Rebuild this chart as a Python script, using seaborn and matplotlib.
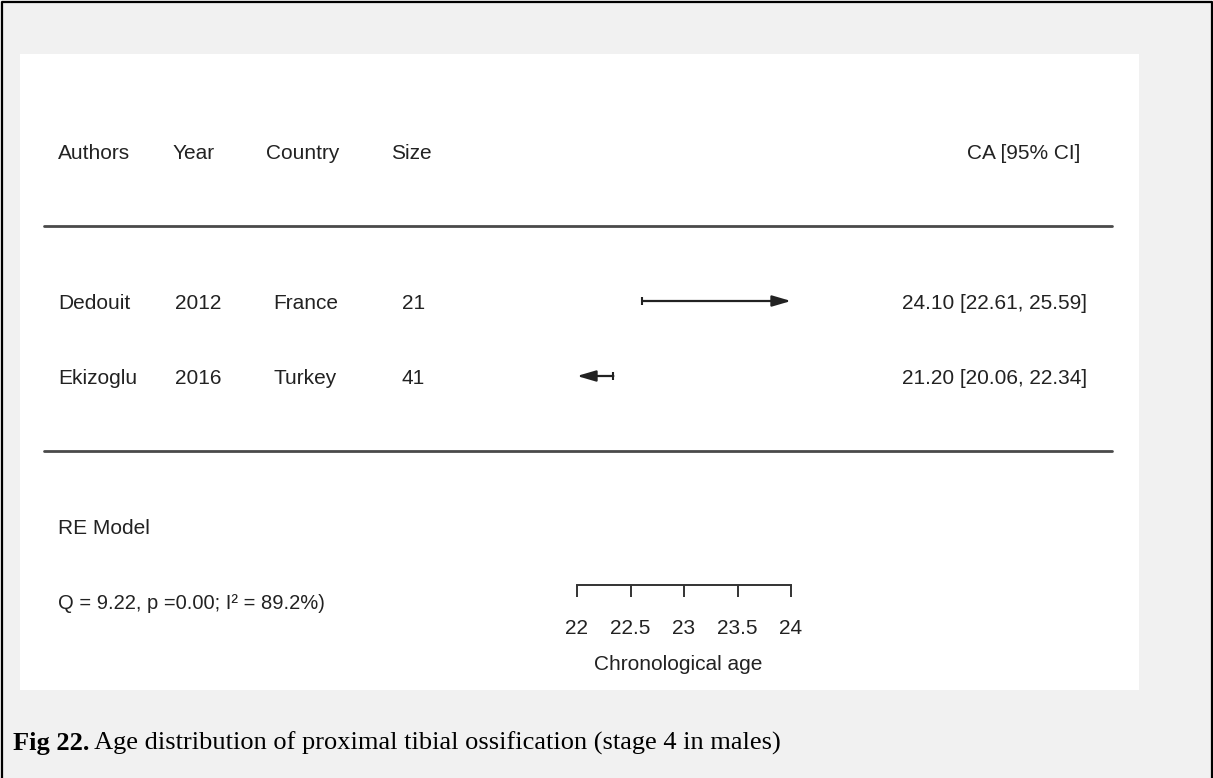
import matplotlib
matplotlib.use("Agg")
import matplotlib.pyplot as plt
import matplotlib.transforms as mtransforms
from matplotlib.lines import Line2D
from matplotlib.patches import Rectangle
import seaborn as sns
import numpy as np

# ---- data ----
authors = ["Dedouit", "Ekizoglu"]
years = ["2012", "2016"]
countries = ["France", "Turkey"]
sizes = ["21", "41"]
ca = [24.10, 21.20]
ci_lo = [22.61, 20.06]
ci_hi = [25.59, 22.34]
headers = ["Authors", "Year", "Country", "Size", "CA [95% CI]"]
x_ticks = [22, 22.5, 23, 23.5, 24]
x_tick_labels = ["22", "22.5", "23", "23.5", "24"]
model_label = "RE Model"
het_text = "Q = 9.22, p =0.00; I\u00b2 = 89.2%)"
x_label = "Chronological age"
caption_bold = "Fig 22."
caption_rest = " Age distribution of proximal tibial ossification (stage 4 in males)"

sns.set_theme(style="white")
plt.rcParams["font.family"] = ["Liberation Sans", "DejaVu Sans"]

W, H = 1213, 778
fig = plt.figure(figsize=(W / 100, H / 100), dpi=100)
fig.patch.set_facecolor("#f1f1f1")

def fx(px):
    return px / W

def fy(py):
    return 1 - py / H

# white panel
fig.add_artist(Rectangle((fx(20), fy(690)), fx(1139) - fx(20), fy(54) - fy(690),
                         transform=fig.transFigure, facecolor="white", edgecolor="none", zorder=0))
# outer frame (left, top, right)
fig.add_artist(Line2D([fx(1.5), fx(1.5), fx(1211.5), fx(1211.5)],
                      [0, fy(1.5), fy(1.5), 0], transform=fig.transFigure,
                      color="black", lw=1.6, zorder=5))

# forest axes: x from 22 -> px 577 to 24 -> px 791; rows 75 px apart
ax_left, ax_right, ax_bot, ax_top = 577, 791, 585, 120
ax = fig.add_axes([fx(ax_left), fy(ax_bot), fx(ax_right) - fx(ax_left), fy(ax_top) - fy(ax_bot)])
ax.patch.set_alpha(0)
row_px = 75.0
row1_px = 376.0
ax.set_xlim(x_ticks[0], x_ticks[-1])
ax.set_ylim(1 + (row1_px - ax_bot) / row_px, 1 + (row1_px - ax_top) / row_px)

k = len(authors)
rows = np.arange(k, 0, -1)  # Dedouit top
ink = "#222222"

sns.despine(ax=ax, left=True, top=True, right=True)
ax.spines["bottom"].set_bounds(x_ticks[0], x_ticks[-1])
ax.spines["bottom"].set_color("#333333")
ax.spines["bottom"].set_linewidth(1.4)
ax.set_yticks([])
ax.set_xticks(x_ticks)
ax.set_xticklabels(x_tick_labels)
ax.tick_params(axis="x", direction="out", length=8.5, width=1.4, color="#333333",
               pad=16, labelsize=15, labelcolor=ink, bottom=True)
ax.set_xlabel(x_label, fontsize=15, color=ink)
ax.xaxis.set_label_coords((678 - ax_left) / (ax_right - ax_left), -(665 - ax_bot) / (ax_bot - ax_top))
ax.xaxis.label.set_va("center")

amin, amax = x_ticks[0], x_ticks[-1]
arrow_style = "-|>,head_length=0.75,head_width=0.22"
for r, lo, hi, est in zip(rows, ci_lo, ci_hi, ca):
    lo_c, hi_c = max(lo, amin), min(hi, amax)
    if hi > amax:
        ax.annotate("", xy=(hi_c, r), xytext=(lo_c, r),
                    arrowprops=dict(arrowstyle=arrow_style, mutation_scale=15, lw=1.6,
                                    color=ink, shrinkA=0, shrinkB=0), annotation_clip=False)
    elif lo < amin:
        ax.annotate("", xy=(lo_c, r), xytext=(hi_c, r),
                    arrowprops=dict(arrowstyle=arrow_style, mutation_scale=15, lw=1.6,
                                    color=ink, shrinkA=0, shrinkB=0), annotation_clip=False)
    else:
        ax.plot([lo_c, hi_c], [r, r], color=ink, lw=1.6)
    if lo >= amin:
        ax.plot([lo], [r], marker="|", ms=6, mew=1.5, color=ink)
    if hi <= amax:
        ax.plot([hi], [r], marker="|", ms=6, mew=1.5, color=ink)
    if amin <= est <= amax:
        ax.plot([est], [r], marker="s", ms=8, color=ink)

# horizontal separator lines (metafor style at k+1 and 0)
line_x0 = (44 - ax_left) / (ax_right - ax_left)
line_x1 = (1112 - ax_left) / (ax_right - ax_left)
for yy in [k + 1, 0]:
    ax.axhline(yy, xmin=line_x0, xmax=line_x1, color="#4a4a4a", lw=2.0, clip_on=False)

# text: x in figure fraction, y in data, shifted to baseline
blend = mtransforms.blended_transform_factory(fig.transFigure, ax.transData)
tr = mtransforms.offset_copy(blend, fig=fig, x=0, y=-8, units="dots")
fs = 15
header_x = [58, 173, 266, 391]
for h, xp in zip(headers[:4], header_x):
    ax.text(fx(xp), k + 2, h, transform=tr, fontsize=fs, color=ink, va="baseline", ha="left")
ax.text(fx(1080), k + 2, headers[4], transform=tr, fontsize=fs, color=ink, va="baseline", ha="right")

col_x = [58, 175, 273, 402]
for r, a, yv, c, s, e, lo, hi in zip(rows, authors, years, countries, sizes, ca, ci_lo, ci_hi):
    for val, xp in zip([a, yv, c, s], col_x):
        ax.text(fx(xp), r, val, transform=tr, fontsize=fs, color=ink, va="baseline", ha="left")
    ax.text(fx(1087), r, f"{e:.2f} [{lo:.2f}, {hi:.2f}]", transform=tr, fontsize=fs,
            color=ink, va="baseline", ha="right")

ax.text(fx(58), -1, model_label, transform=tr, fontsize=fs, color=ink, va="baseline", ha="left")
ax.text(fx(58), -2, het_text, transform=tr, fontsize=14.5, color=ink, va="baseline", ha="left")

# caption
t1 = fig.text(fx(13), fy(750), caption_bold, fontsize=19, fontweight="bold",
              family=["Liberation Serif", "DejaVu Serif"], color="black", va="baseline", ha="left")
fig.canvas.draw()
bb = t1.get_window_extent()
fig.text(bb.x1 / W, fy(750), caption_rest, fontsize=19,
         family=["Liberation Serif", "DejaVu Serif"], color="black", va="baseline", ha="left")

fig.savefig("out.png", dpi=100, facecolor=fig.get_facecolor())
